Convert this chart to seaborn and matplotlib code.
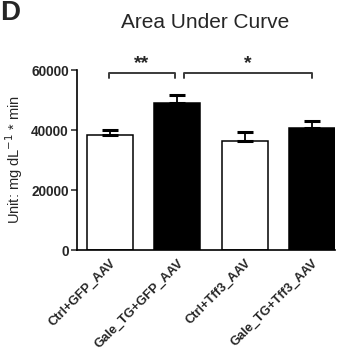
import matplotlib
matplotlib.use("Agg")
import matplotlib.pyplot as plt
import seaborn as sns
import pandas as pd

categories = ["Ctrl+GFP_AAV", "Gale_TG+GFP_AAV", "Ctrl+Tff3_AAV", "Gale_TG+Tff3_AAV"]
means = [38300, 48900, 36400, 40700]
sems = [1700, 2800, 2800, 2200]
bar_colors = ["white", "black", "white", "black"]
yticks = [0, 20000, 40000, 60000]
comparisons = [(0, 1, "**"), (1, 3, "*")]

sns.set_style("white")
plt.rcParams["font.family"] = ["Liberation Sans", "DejaVu Sans"]

fig = plt.figure(figsize=(3.43, 3.51), dpi=100)
ax = fig.add_axes([77/343, 1-250/351, (335-77)/343, 180/351])

df = pd.DataFrame({"group": categories, "auc": means})
sns.barplot(data=df, x="group", y="auc", hue="group", palette=bar_colors,
            order=categories, hue_order=categories, legend=False,
            errorbar=None, width=0.68, edgecolor="black", linewidth=1.1, ax=ax)

ax.errorbar(range(len(categories)), means, yerr=[[0]*4, sems], fmt="none",
            ecolor="black", elinewidth=1.3, capsize=5.5, capthick=2.2, zorder=3)

ax.set_xlim(-0.49, 3.34)
ax.set_ylim(0, 60000)
ax.set_yticks(yticks)
ax.set_yticklabels([str(t) for t in yticks], fontweight="bold", fontsize=9.8)
ax.set_xticks(range(len(categories)))
ax.set_xticklabels(categories, rotation=45, ha="right", rotation_mode="anchor",
                   fontweight="bold", fontsize=9.3)
ax.tick_params(axis="x", length=0, pad=5)
ax.tick_params(axis="y", length=4, width=1.1, pad=2, direction="out", left=True)
for s in ["top", "right"]:
    ax.spines[s].set_visible(False)
for s in ["left", "bottom"]:
    ax.spines[s].set_linewidth(1.2)
    ax.spines[s].set_color("black")
ax.set_xlabel("")
ax.set_ylabel("Unit: mg dL$^{-1}$ * min", fontsize=10.5)
ax.yaxis.set_label_coords(-0.2, 0.5)

# significance brackets
offsets = {(0, 1): (-0.02, -0.04), (1, 3): (0.1, 0.0)}
for i, j, label in comparisons:
    a, b = offsets[(i, j)]
    x1, x2 = i + a, j + b
    y, h = 58900, 1600
    ax.plot([x1, x1, x2, x2], [y - h, y, y, y - h], color="#3a3a3a", lw=1.4,
            clip_on=False)
    ax.text((x1 + x2) / 2, y + 500, label, ha="center", va="bottom",
            fontsize=14, fontweight="bold", clip_on=False)

fig.text(205/343, 1-22/351, "Area Under Curve", ha="center", va="center", fontsize=15)
fig.text(0.0, 0.999, "D", ha="left", va="top", fontsize=20, fontweight="bold")

fig.savefig("out.png", dpi=100)
